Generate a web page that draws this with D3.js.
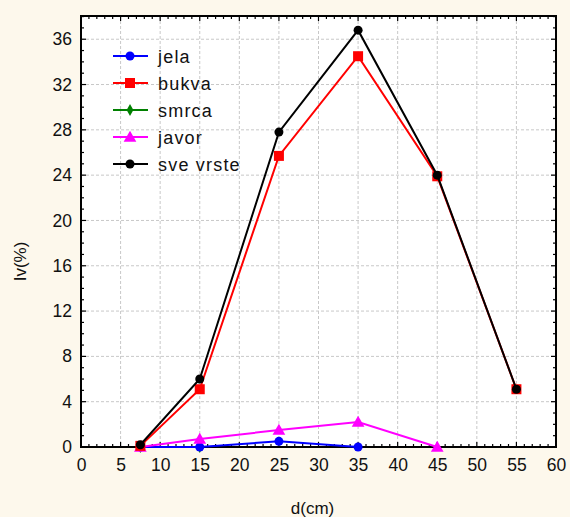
<!DOCTYPE html>
<html>
<head>
<meta charset="utf-8">
<script src="https://cdn.jsdelivr.net/npm/d3@7"></script>
<style>
  body { margin: 0; background: #fdf8ec; }
  svg { display: block; }
  text { font-family: "Liberation Sans", Arial, sans-serif; fill: #111; }
</style>
</head>
<body>
<svg id="grafik" width="570" height="517"></svg>
<script>
// precnik (cm) i udio Iv(%) po vrstama
const precnici = [7.5, 15, 25, 35, 45, 55];
const jela = [0, 0, 0.5, 0];
const bukva = [0.1, 5.1, 25.7, 34.5, 23.9, 5.1];
const smrca = [0, 0];
const javor = [0, 0.7, 1.5, 2.2, 0];
const sveVrste = [0.2, 6.0, 27.8, 36.8, 24.0, 5.1];

const xTikovi = [0, 5, 10, 15, 20, 25, 30, 35, 40, 45, 50, 55, 60];
const yTikovi = [0, 4, 8, 12, 16, 20, 24, 28, 32, 36];

const serije = [
  { naziv: "jela", vrijednosti: jela, boja: "#0000ff", oblik: "krug" },
  { naziv: "bukva", vrijednosti: bukva, boja: "#ff0000", oblik: "kvadrat" },
  { naziv: "smrca", vrijednosti: smrca, boja: "#008000", oblik: "romb" },
  { naziv: "javor", vrijednosti: javor, boja: "#ff00ff", oblik: "trokut" },
  { naziv: "sve vrste", vrijednosti: sveVrste, boja: "#000000", oblik: "krug" }
];

const margin = { top: 16, right: 14, bottom: 70, left: 81 };
const width = 570 - margin.left - margin.right;
const height = 517 - margin.top - margin.bottom;

const svg = d3.select("#grafik");
const g = svg.append("g").attr("transform", `translate(${margin.left},${margin.top})`);

const x = d3.scaleLinear().domain([0, 60]).range([0, width]);
const y = d3.scaleLinear().domain([0, 38.05]).range([height, 0]);

g.append("rect").attr("width", width).attr("height", height).attr("fill", "#fff");

// mreza
g.selectAll(".gx").data(xTikovi.slice(1, -1)).enter().append("line")
  .attr("x1", d => x(d)).attr("x2", d => x(d)).attr("y1", 0).attr("y2", height)
  .attr("stroke", "#c8c8c8").attr("stroke-dasharray", "3,2");
g.selectAll(".gy").data(yTikovi.slice(1)).enter().append("line")
  .attr("x1", 0).attr("x2", width).attr("y1", d => y(d)).attr("y2", d => y(d))
  .attr("stroke", "#c8c8c8").attr("stroke-dasharray", "3,2");

// sitni tikovi (unutra, sve cetiri strane)
const xSitni = d3.range(0, 61, 1);
const ySitni = d3.range(0, 39, 1);
const tik = (sel, podaci, f) => sel.selectAll(null).data(podaci).enter().append("line").each(f)
  .attr("stroke", "#000").attr("stroke-width", 1.2);

tik(g, xSitni, function (d) {
  const duz = d % 5 === 0 ? 5 : 3;
  d3.select(this).attr("x1", x(d)).attr("x2", x(d)).attr("y1", height).attr("y2", height - duz);
});
tik(g, xSitni, function (d) {
  const duz = d % 5 === 0 ? 5 : 3;
  d3.select(this).attr("x1", x(d)).attr("x2", x(d)).attr("y1", 0).attr("y2", duz);
});
tik(g, ySitni, function (d) {
  const duz = d % 4 === 0 ? 5 : 3;
  d3.select(this).attr("x1", 0).attr("x2", duz).attr("y1", y(d)).attr("y2", y(d));
});
tik(g, ySitni, function (d) {
  const duz = d % 4 === 0 ? 5 : 3;
  d3.select(this).attr("x1", width).attr("x2", width - duz).attr("y1", y(d)).attr("y2", y(d));
});

// natpisi osa
const xOsa = d3.axisBottom(x).tickValues(xTikovi).tickSize(0).tickPadding(12);
const yOsa = d3.axisLeft(y).tickValues(yTikovi).tickSize(0).tickPadding(9);
g.append("g").attr("transform", `translate(0,${height})`).call(xOsa)
  .call(s => s.select(".domain").remove())
  .selectAll("text").attr("font-size", 17.5).style("font-family", "Liberation Sans, Arial, sans-serif").attr("fill", "#111");
g.append("g").call(yOsa)
  .call(s => s.select(".domain").remove())
  .selectAll("text").attr("font-size", 17.5).style("font-family", "Liberation Sans, Arial, sans-serif").attr("fill", "#111");

// okvir
g.append("rect").attr("width", width).attr("height", height)
  .attr("fill", "none").attr("stroke", "#000").attr("stroke-width", 2);

// linije
const linija = d3.line().x((d, i) => x(precnici[i])).y(d => y(d));

const simbol = (sel, oblik, boja, cx, cy) => {
  if (oblik === "krug") {
    sel.append("circle").attr("cx", cx).attr("cy", cy).attr("r", 4.5).attr("fill", boja);
  } else if (oblik === "kvadrat") {
    sel.append("rect").attr("x", cx - 5).attr("y", cy - 5).attr("width", 10).attr("height", 10).attr("fill", boja);
  } else if (oblik === "romb") {
    sel.append("path").attr("d", d3.symbol(d3.symbolDiamond, 40)()).attr("transform", `translate(${cx},${cy})`).attr("fill", boja);
  } else {
    sel.append("path").attr("d", d3.symbol(d3.symbolTriangle, 70)()).attr("transform", `translate(${cx},${cy + 1})`).attr("fill", boja);
  }
};

const crtez = [serije[2], serije[0], serije[3], serije[1], serije[4]];
crtez.forEach(s => {
  g.append("path").datum(s.vrijednosti).attr("d", linija)
    .attr("fill", "none").attr("stroke", s.boja).attr("stroke-width", 2);
  const sg = g.append("g");
  s.vrijednosti.forEach((v, i) => simbol(sg, s.oblik, s.boja, x(precnici[i]), y(v)));
});

// legenda
const leg = g.append("g").attr("transform", "translate(32,40)");
serije.forEach((s, i) => {
  const red = leg.append("g").attr("transform", `translate(0,${i * 27})`);
  red.append("line").attr("x1", 0).attr("x2", 35).attr("stroke", s.boja).attr("stroke-width", 2);
  simbol(red, s.oblik, s.boja, 17, 0);
  red.append("text").attr("x", 45).attr("y", 6.5).attr("font-size", 18)
    .attr("letter-spacing", "1.2px").text(s.naziv);
});

// naslovi osa
svg.append("text").attr("x", margin.left + width / 2 - 6).attr("y", 514)
  .attr("text-anchor", "middle").attr("font-size", 17).text("d(cm)");
svg.append("text").attr("transform", `translate(26,${margin.top + height / 2 + 30}) rotate(-90)`)
  .attr("text-anchor", "middle").attr("font-size", 17).text("Iv(%)");
</script>
</body>
</html>
